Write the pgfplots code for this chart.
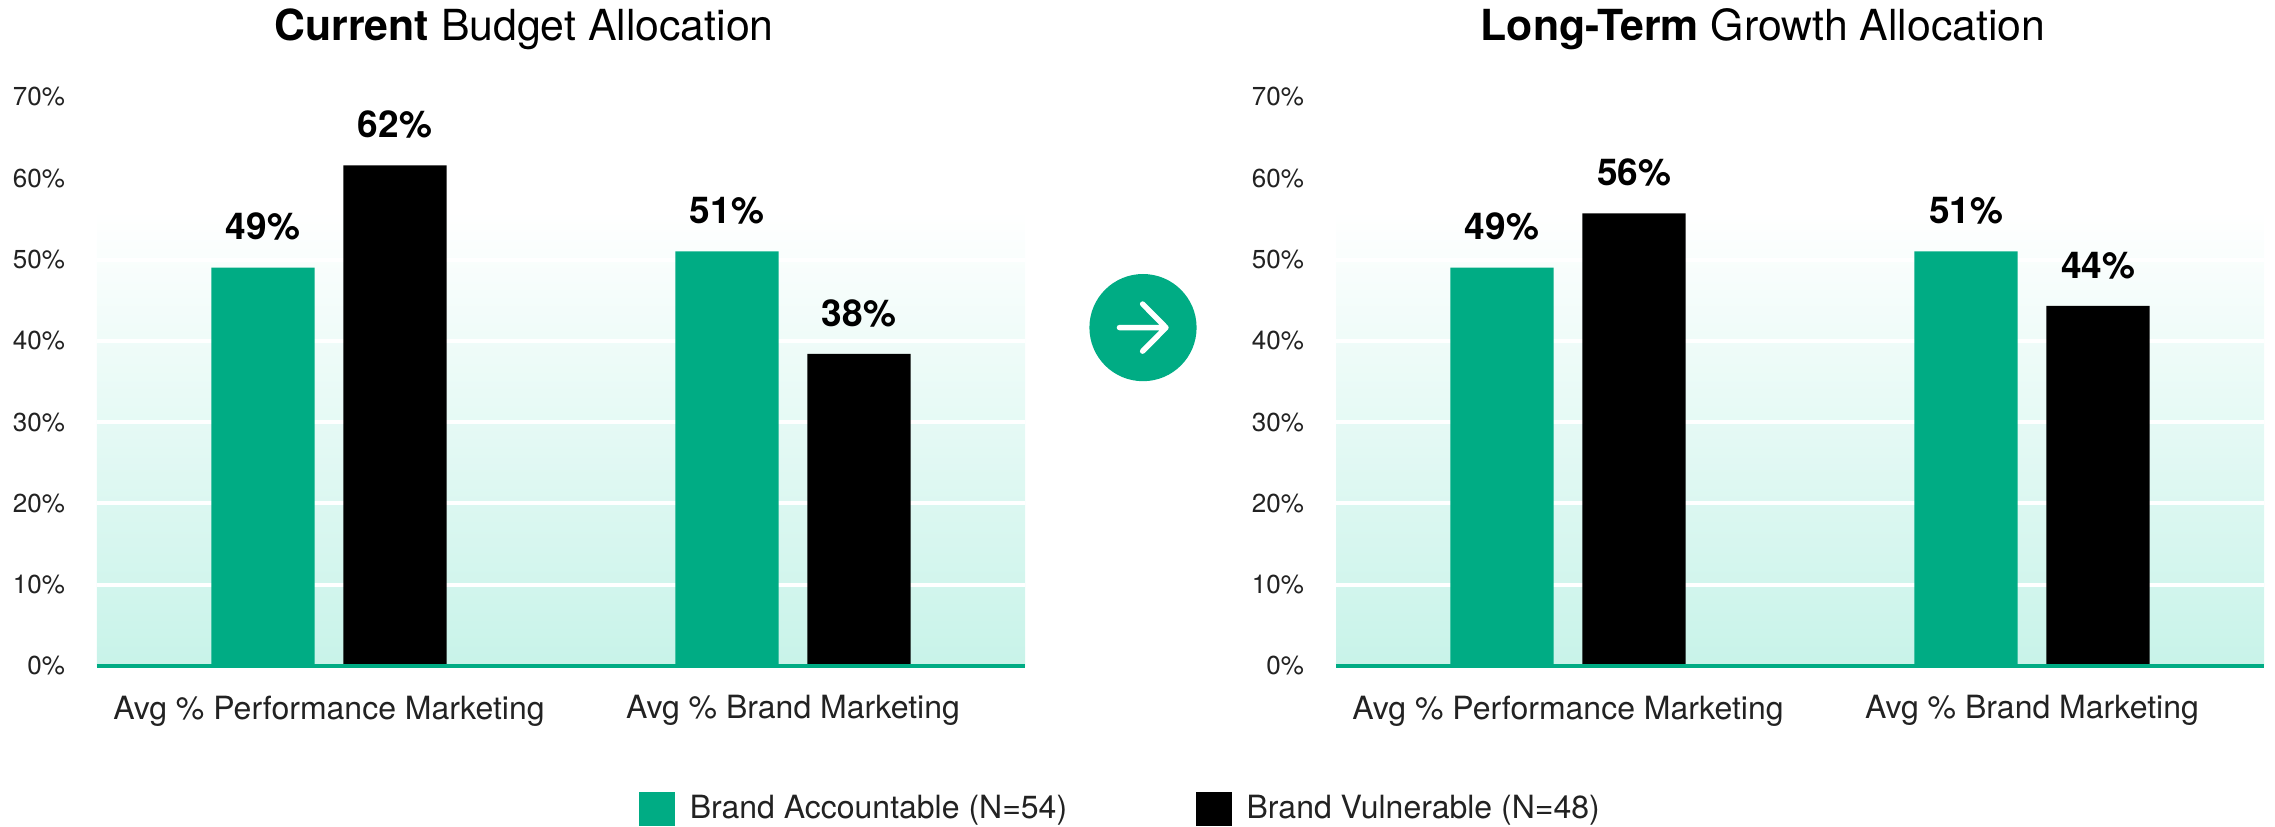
\documentclass[border=0pt]{standalone}
\usepackage{pgfplots}
\pgfplotsset{compat=1.18}
\usepackage{fontspec}
\setmainfont{TeX Gyre Heros}
\definecolor{brandgreen}{HTML}{00AC84}
\definecolor{labelgrey}{HTML}{222222}
\definecolor{bandlow}{HTML}{C8F3E9}
\pgfdeclareverticalshading{bandfade}{100bp}{color(0bp)=(bandlow); color(25bp)=(bandlow); color(65bp)=(white); color(100bp)=(white)}
% 1 reference pixel = 0.5pt
\pgfplotsset{
  panel/.style={
    scale only axis, width=464pt, height=284.5pt,
    xmin=0, xmax=2, ymin=0, ymax=70,
    xtick={0.5,1.5}, xticklabels={Avg \% Performance Marketing, Avg \% Brand Marketing},
    ytick={0,10,...,70}, yticklabel={\pgfmathprintnumber{\tick}\%},
    /pgf/number format/assume math mode=true,
    axis x line*=bottom, axis y line*=left,
    axis line style={draw=none}, x axis line style={draw=none},
    major tick style={draw=none},
    xticklabel style={font=\fontsize{16}{19}\selectfont, text=labelgrey, yshift=-7pt},
    yticklabel style={font=\fontsize{13}{16}\selectfont, text=labelgrey, xshift=-12.5pt},
    ymajorgrids, grid style={white, line width=2pt},
    title style={font=\fontsize{21.4}{25}\selectfont, yshift=14pt, xshift=-18.5pt},
    axis background/.style={shading=bandfade},
    ybar, bar width=51.6pt, bar shift=0pt,
    clip=false,
    nodes near coords style={font=\bfseries\fontsize{18.5}{22}\selectfont, text=black, yshift=10pt},
  },
  bar a/.style={draw=none, fill=brandgreen, bar shift=-33pt},
  bar b/.style={draw=none, fill=black, bar shift=33pt},
  nodes near coords={\pgfmathprintnumber[precision=0]{\pgfplotspointmeta}\%},
}
\begin{document}
\begin{tikzpicture}[x=1pt,y=1pt]
\useasboundingbox (0,0) rectangle (1137.5,413);
\begin{axis}[panel, at={(48.5pt,80pt)}, anchor=south west,
  title={\textbf{Current} Budget Allocation},
  legend columns=2,
  legend style={at={(0.584,-0.251)},anchor=west,draw=none,fill=none,inner sep=0pt,
    font=\fontsize{16}{19}\selectfont,text=labelgrey,
    /tikz/every odd column/.append style={column sep=5.2pt},
    /tikz/every even column/.append style={column sep=62.5pt}},
  legend image code/.code={\fill[#1] (0pt,-8.5pt) rectangle (18pt,8.5pt);},
]
\addplot[bar a] coordinates {(0.5,49) (1.5,51)};
\addplot[bar b] coordinates {(0.5,61.6) (1.5,38.4)};
\addlegendentry{Brand Accountable (N=54)}
\addlegendentry{Brand Vulnerable (N=48)}
\draw[brandgreen, line width=2pt] (axis cs:0,0) -- (axis cs:2,0);
\end{axis}
\begin{axis}[panel, at={(668pt,80pt)}, anchor=south west,
  title={\textbf{Long-Term} Growth Allocation},
]
\addplot[bar a] coordinates {(0.5,49) (1.5,51)};
\addplot[bar b] coordinates {(0.5,55.7) (1.5,44.3)};
\draw[brandgreen, line width=2pt] (axis cs:0,0) -- (axis cs:2,0);
\end{axis}
\fill[brandgreen] (571.5,249.2) circle (26.8);
\draw[white, line width=2.7pt, line cap=round, line join=round]
  (559.7,249.2) -- (583,249.2) (571.3,261) -- (583,249.2) -- (571.3,237.4);
\end{tikzpicture}
\end{document}
